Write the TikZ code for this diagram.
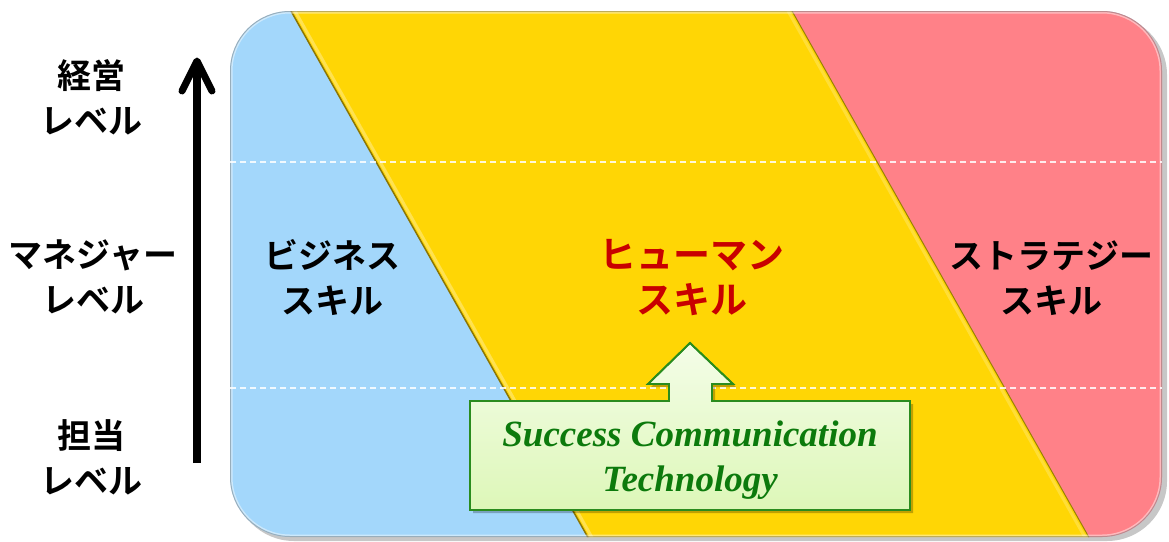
\documentclass[tikz,border=0pt]{standalone}
\usepackage{fontspec}
\setmainfont{Liberation Serif}
\newfontfamily\jp{Noto Sans CJK JP}[UprightFont=* Bold]
\usetikzlibrary{arrows.meta}
\definecolor{skyb}{HTML}{A3D7FB}
\definecolor{goldy}{HTML}{FFD605}
\definecolor{pinkr}{HTML}{FF8188}
\definecolor{hred}{HTML}{C80000}
\definecolor{sgreen}{HTML}{0C7A0C}
\definecolor{bgreen}{HTML}{2A8C1E}
\definecolor{gtop}{HTML}{F4FDE8}
\definecolor{gbot}{HTML}{DDF7B8}
\tikzset{
  jlabel/.style={font=\jp\fontsize{34}{45}\selectfont, align=center, text=black, inner sep=0pt},
  sctext/.style={font=\bfseries\itshape\fontsize{37}{45}\selectfont, align=center, text=sgreen, inner sep=0pt},
  divline/.style={white, line width=1.2pt, dash pattern=on 6pt off 4pt, opacity=.85},
}
\begin{document}
\begin{tikzpicture}[x=1pt,y=-1pt]
\useasboundingbox (0,0) rectangle (1169,541);
% shadow of the panel
\fill[black, opacity=.22, rounded corners=60pt] (234,15) rectangle (1167,541);
\begin{scope}
  \clip[rounded corners=60pt] (230,11) rectangle (1162,537);
  \fill[skyb] (230,11) rectangle (1162,537);
  \fill[pinkr] (792,11) -- (1170,11) -- (1170,541) -- (1090,541) -- cycle;
  \fill[goldy] (291,11) -- (792,11) -- (1091,541) -- (590,541) -- cycle;
  % bevel edges
  \draw[goldy!55!black, line width=1.5pt] (291,11) -- (590,541);
  \draw[goldy!70!white, line width=3pt] (295,11) -- (594,541);
  \draw[goldy!60!black, line width=1pt] (792,11) -- (1091,541);
  \draw[goldy!80!white, line width=3pt] (788,11) -- (1087,541);
  \draw[white, opacity=.45, line width=5pt, rounded corners=60pt] (230,11) rectangle (1162,537);
  \draw[black, opacity=.25, line width=2pt, rounded corners=60pt] (230,11) rectangle (1162,537);
  \draw[divline] (230,162) -- (1162,162);
  \draw[divline] (230,388) -- (1162,388);
\end{scope}
% level axis
\coordinate (abot) at (197,463);
\coordinate (atop) at (197,62);
\draw[line width=8pt] (abot) -- (atop);
\draw[line width=7pt, line cap=round, line join=round] ([shift={(-15,29)}]atop) -- ([shift={(0,-1)}]atop) -- ([shift={(15,29)}]atop);
% level labels
\node[jlabel] (top) at (91,97) {経営\\レベル};
\node[jlabel] (mid) at (93,277) {マネジャー\\レベル};
\node[jlabel] (low) at (91,457) {担当\\レベル};
% skill labels
\node[jlabel] (biz) at (332,278) {ビジネス\\スキル};
\node[jlabel, text=hred, font=\jp\fontsize{37}{45}\selectfont] (hum) at (692,278) {ヒューマン\\スキル};
\node[jlabel] (str) at (1051,278) {ストラテジー\\スキル};
% callout box with arrow
\fill[black, opacity=.25] (473,404) -- (672,404) -- (672,387) -- (651,387) -- (693,346) -- (736,387) -- (715,387) -- (715,404) -- (913,404) -- (913,513) -- (473,513) -- cycle;
\shade[top color=gtop, bottom color=gbot, draw=bgreen, line width=1.8pt, line join=miter]
  (470,401) -- (669,401) -- (669,384) -- (648,384) -- (690,343) -- (733,384) -- (712,384) -- (712,401) -- (910,401) -- (910,510) -- (470,510) -- cycle;
\draw[bgreen, line width=1.8pt, line join=miter]
  (470,401) -- (669,401) -- (669,384) -- (648,384) -- (690,343) -- (733,384) -- (712,384) -- (712,401) -- (910,401) -- (910,510) -- (470,510) -- cycle;
\node[sctext] (sct) at (690,460) {Success Communication\\Technology};
\end{tikzpicture}
\end{document}
